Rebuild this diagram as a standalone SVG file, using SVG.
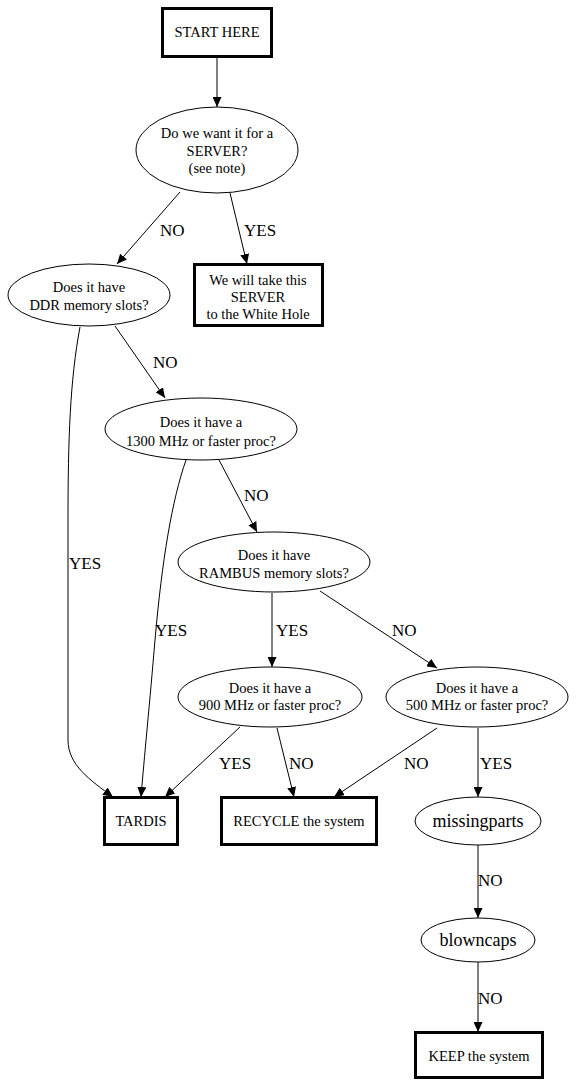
<svg xmlns="http://www.w3.org/2000/svg" width="578" height="1087" viewBox="0 0 578 1087">
<style>
.box{fill:#fff;stroke:#000;stroke-width:3}
.ell{fill:#fff;stroke:#000;stroke-width:1}
.t{font-family:"Liberation Serif","Times New Roman",serif;font-size:14.5px;text-anchor:middle;fill:#000}
.tb{font-family:"Liberation Serif","Times New Roman",serif;font-size:18px;text-anchor:middle;fill:#000}
.lbl{font-family:"Liberation Serif","Times New Roman",serif;font-size:17px;fill:#000}
.e{fill:none;stroke:#000;stroke-width:1;marker-end:url(#ah)}
</style>
<defs>
<marker id="ah" markerUnits="userSpaceOnUse" markerWidth="11" markerHeight="9" refX="10" refY="4.5" orient="auto">
<path d="M0,0 L10,4.5 L0,9 z" fill="#000"/>
</marker>
</defs>
<rect width="578" height="1087" fill="#fff"/>
<g id="connectors">
<path class="e" d="M217,57 L217,107"/>
<path class="e" d="M180,192 L117,264"/>
<path class="e" d="M230,193 L247,264"/>
<path class="e" d="M80,327 C70,380 68,440 68,520 L68,740 C68,765 90,780 113,797"/>
<path class="e" d="M115,326 L165,398"/>
<path class="e" d="M186,460 C172,500 162,560 155,640 C150,700 144,760 141,797"/>
<path class="e" d="M219,460 L257,532"/>
<path class="e" d="M272,593 L272,667"/>
<path class="e" d="M320,591 L437,668"/>
<path class="e" d="M240,727 L165,797"/>
<path class="e" d="M277,728 L294,797"/>
<path class="e" d="M437,728 L334,797"/>
<path class="e" d="M478,728 L478,797"/>
<path class="e" d="M478,845 L478,918"/>
<path class="e" d="M478,962 L478,1032"/>
<text class="lbl" x="160" y="236">NO</text>
<text class="lbl" x="244" y="236">YES</text>
<text class="lbl" x="69" y="569">YES</text>
<text class="lbl" x="153" y="368">NO</text>
<text class="lbl" x="155" y="636">YES</text>
<text class="lbl" x="244" y="501">NO</text>
<text class="lbl" x="276" y="636">YES</text>
<text class="lbl" x="392" y="636">NO</text>
<text class="lbl" x="219" y="769">YES</text>
<text class="lbl" x="289" y="769">NO</text>
<text class="lbl" x="404" y="769">NO</text>
<text class="lbl" x="480" y="769">YES</text>
<text class="lbl" x="478" y="886">NO</text>
<text class="lbl" x="478" y="1004">NO</text>
</g>
<g id="start">
<rect class="box" x="162.5" y="8.5" width="109" height="48"/>
<text class="t" x="217" y="37">START HERE</text>
</g>
<g id="server_q">
<ellipse class="ell" cx="217" cy="150" rx="81" ry="43"/>
<text class="t" x="217" y="138">Do we want it for a</text>
<text class="t" x="217" y="156">SERVER?</text>
<text class="t" x="217" y="173">(see note)</text>
</g>
<g id="ddr_q">
<ellipse class="ell" cx="89" cy="295" rx="81" ry="31"/>
<text class="t" x="89" y="292">Does it have</text>
<text class="t" x="89" y="310">DDR memory slots?</text>
</g>
<g id="server_box">
<rect class="box" x="194.5" y="264.5" width="128" height="61"/>
<text class="t" x="258" y="285">We will take this</text>
<text class="t" x="258" y="302">SERVER</text>
<text class="t" x="258" y="319">to the White Hole</text>
</g>
<g id="mhz1300_q">
<ellipse class="ell" cx="201" cy="429" rx="96" ry="31"/>
<text class="t" x="201" y="427">Does it have a</text>
<text class="t" x="201" y="446">1300 MHz or faster proc?</text>
</g>
<g id="rambus_q">
<ellipse class="ell" cx="274" cy="562" rx="96" ry="30"/>
<text class="t" x="274" y="560">Does it have</text>
<text class="t" x="274" y="578">RAMBUS memory slots?</text>
</g>
<g id="mhz900_q">
<ellipse class="ell" cx="270" cy="697" rx="92" ry="30"/>
<text class="t" x="270" y="693">Does it have a</text>
<text class="t" x="270" y="710">900 MHz or faster proc?</text>
</g>
<g id="mhz500_q">
<ellipse class="ell" cx="477" cy="697" rx="91" ry="30"/>
<text class="t" x="477" y="693">Does it have a</text>
<text class="t" x="477" y="710">500 MHz or faster proc?</text>
</g>
<g id="tardis">
<rect class="box" x="104.5" y="797.5" width="73" height="47"/>
<text class="t" x="141" y="826">TARDIS</text>
</g>
<g id="recycle">
<rect class="box" x="221.5" y="797.5" width="155" height="47"/>
<text class="t" x="299" y="826">RECYCLE the system</text>
</g>
<g id="missingparts">
<ellipse class="ell" cx="478" cy="821" rx="63" ry="24"/>
<text class="tb" x="478" y="827">missingparts</text>
</g>
<g id="blowncaps">
<ellipse class="ell" cx="478" cy="940" rx="57" ry="22"/>
<text class="tb" x="478" y="946">blowncaps</text>
</g>
<g id="keep">
<rect class="box" x="415.5" y="1032.5" width="127" height="45"/>
<text class="t" x="479" y="1061">KEEP the system</text>
</g>
</svg>
